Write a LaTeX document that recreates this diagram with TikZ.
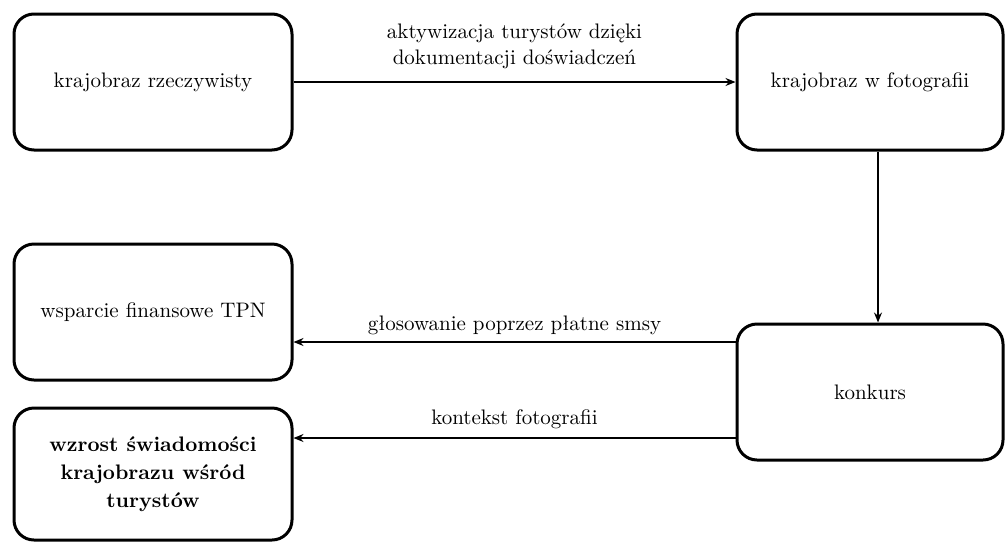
\documentclass[tikz,border=0pt]{standalone}
\usetikzlibrary{arrows.meta}
\begin{document}
\begin{tikzpicture}[
  x=0.5pt, y=-0.5pt,
  every node/.style={font=\fontsize{10.5}{12.5}\selectfont},
  box/.style={draw, line width=1.5pt, rounded corners=10pt, align=center, minimum height=68pt},
  arr/.style={-{Stealth[length=5pt,width=4pt]}, line width=0.6pt}
]
  \useasboundingbox (0,0) rectangle (1006,542);

  \node[box, minimum width=139pt] (real) at (153,82)  {krajobraz rzeczywisty};
  \node[box, minimum width=133pt] (foto) at (870,82)  {krajobraz w fotografii};
  \node[box, minimum width=133pt] (konk) at (870,392) {konkurs};
  \node[box, minimum width=139pt] (tpn)  at (153,312) {wsparcie finansowe TPN};
  \node[box, minimum width=139pt, minimum height=66pt,
        font=\bfseries\fontsize{10.5}{14}\selectfont] (wzr) at (153,474)
        {wzrost świadomości\\krajobrazu wśród\\turystów};

  \draw[arr] (real) -- node[above=3pt, align=center, font=\fontsize{10.5}{13}\selectfont]
        {aktywizacja turystów dzięki\\dokumentacji doświadczeń} (foto);
  \draw[arr] ([xshift=4pt]foto.south) -- ([xshift=4pt]konk.north);
  \draw[arr] ([yshift=25pt]konk.west) coordinate (g1) -- node[above=0pt] {głosowanie poprzez płatne smsy} (g1 -| tpn.east);
  \draw[arr] ([yshift=-23pt]konk.west) coordinate (g2) -- node[above=1pt] {kontekst fotografii} (g2 -| wzr.east);
\end{tikzpicture}
\end{document}
